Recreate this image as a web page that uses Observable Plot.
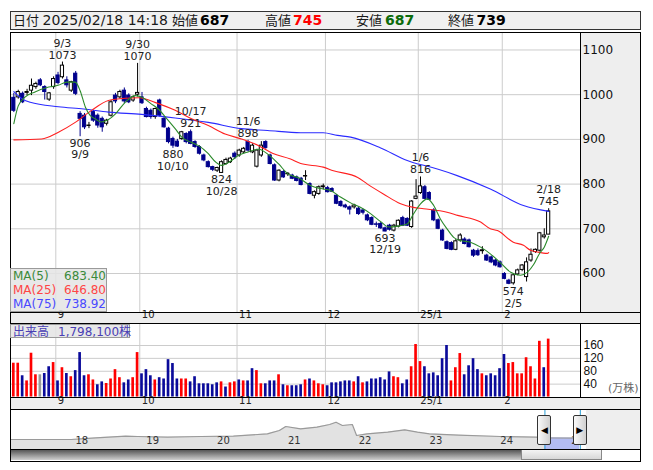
<!DOCTYPE html>
<html><head><meta charset="utf-8">
<script src="https://cdn.jsdelivr.net/npm/d3@7"></script>
<script src="https://cdn.jsdelivr.net/npm/@observablehq/plot@0.6"></script>
<style>
body{margin:0;background:#fff;font-family:"DejaVu Sans","Noto Sans CJK JP",sans-serif;}
#wrap{position:relative;width:653px;height:470px;overflow:hidden;background:#fff;}
.a{position:absolute;box-sizing:border-box;}
.hl{position:absolute;height:1px;background:#000;}
.vl{position:absolute;width:1px;background:#000;}
.ht{position:absolute;top:11px;height:18px;line-height:18px;font-size:14px;color:#1a1a1a;white-space:nowrap;}
.cj{font-family:"Noto Sans CJK JP",sans-serif;font-size:13px;}
.b{font-weight:bold;}
.lg{position:absolute;left:2px;width:93px;height:14px;line-height:14px;font-size:12px;}
.lg span{position:absolute;right:0;}
</style></head><body><div id="wrap"></div>
<script>
// ---------- data ----------
const dates = ["8/19","8/20","8/21","8/22","8/23","8/26","8/27","8/28","8/29","8/30",
"9/2","9/3","9/4","9/5","9/6","9/9","9/10","9/11","9/12","9/13","9/17","9/18","9/19","9/20","9/24","9/25","9/26","9/27","9/30",
"10/1","10/2","10/3","10/4","10/7","10/8","10/9","10/10","10/11","10/15","10/16","10/17","10/18","10/21","10/22","10/23","10/24","10/25","10/28","10/29","10/30","10/31",
"11/1","11/5","11/6","11/7","11/8","11/11","11/12","11/13","11/14","11/15","11/18","11/19","11/20","11/21","11/22","11/25","11/26","11/27","11/28","11/29",
"12/2","12/3","12/4","12/5","12/6","12/9","12/10","12/11","12/12","12/13","12/16","12/17","12/18","12/19","12/20","12/23","12/24","12/25","12/26","12/27","12/30",
"1/6","1/7","1/8","1/9","1/10","1/14","1/15","1/16","1/17","1/20","1/21","1/22","1/23","1/24","1/27","1/28","1/29","1/30","1/31",
"2/3","2/4","2/5","2/6","2/7","2/10","2/12","2/13","2/14","2/17","2/18"];
const open = [993,994,1002,1004,1009,1017,1032,1017,989,1017, 1043,1039,1032,1009,1047,957,953,930,961,953, 946,935,953,998,994,1009,998,987,1000,994,
968,964,950,987,946,924,901,895,901,912, 916,894,883,864,849,838,830,825,845,849, 868,864,871,894,871,839,864,894,864,842,
808,827,822,819,815,812,817,800,774,778, 793,791,789,774,760,752,748,748,745,741, 730,724,710,711,701,707,696,705,724,722,
704,767,780,793,780,741,719,696,670,668, 653,674,676,674,651,650,650,640,636,629, 625,599,584,578,598,608,592,629,648,651, 681,687];
const high = [1003,1010,1006,1012,1035,1028,1036,1020,1005,1040, 1050,1073,1040,1030,1052,962,958,938,965,957, 950,945,987,1003,1010,1015,1002,997,1070,1005,
972,968,970,990,950,927,905,900,918,915, 921,897,886,867,852,840,838,852,858,860, 872,878,882,898,890,878,895,897,867,845,
832,830,826,822,818,815,830,803,785,796, 800,795,792,777,763,755,751,755,748,744, 733,727,715,714,704,710,710,720,728,725,
763,810,816,797,783,745,722,699,673,671, 676,689,680,677,654,655,660,643,639,632, 628,602,587,598,610,620,635,655,655,692, 700,745];
const low = [960,990,980,998,998,1012,1018,988,985,1012, 1022,1035,1015,1005,998,906,922,924,938,925, 916,930,950,980,990,980,980,983,995,978,
948,945,945,950,925,890,880,882,898,890, 888,880,865,850,836,828,826,824,842,846, 855,860,868,872,868,836,860,878,843,806,
805,813,817,810,805,796,808,776,767,775, 787,780,781,754,748,745,731,744,730,731, 716,707,703,699,693,695,693,702,705,705,
701,765,777,765,763,716,698,672,653,651, 651,670,664,657,636,638,643,627,622,615, 612,586,575,574,595,604,581,625,645,648, 677,687];
const close = [964,1006,983,1006,1020,1024,1021,1006,1003,1035, 1026,1065,1021,1028,1002,946,927,931,942,931, 927,942,983,985,1006,985,983,994,1004,981,
950,950,968,953,927,894,886,884,916,894, 890,883,868,853,838,832,836,849,854,857, 860,875,879,875,886,875,886,881,845,808,
830,815,823,812,807,798,818,778,782,793, 795,782,783,756,751,748,743,752,733,736, 719,709,709,701,694,698,707,718,707,707,
761,772,795,767,765,719,700,674,655,653, 672,685,666,659,640,641,652,629,625,618, 614,588,577,596,607,618,625,642,653,690, 685,739];
// volume in 万株
const volume = [105,105,66,50,136,69,69,73,94,107, 50,91,73,63,82,138,66,69,53,38, 47,42,56,85,60,44,53,60,138,72,
85,66,53,60,56,116,104,56,56,56, 47,63,41,41,41,38,44,47,31,44, 47,53,50,50,88,82,41,41,50,50,
69,38,35,35,35,38,53,56,50,41, 38,35,44,44,47,50,50,47,63,44, 47,56,56,60,53,78,63,60,41,53,
94,163,110,94,72,75,66,119,160,50, 91,135,69,97,119,85,72,66,72,66, 88,132,104,107,72,72,122,94,56,173, 91,179.81];
// volume bar direction: u = up, d = down, f = unchanged (ten days per string)
const volDir = ["uuduuufddu","dududdduud","duuuudduud","dduddddduu","dddddddudu",
"ududduuddd","ududdduduu","uddddddudu","dddddduudd","uuuddddddu",
"uudddduddd","dduuuuuuuu","du"].join("").split("");
const ma5Idx = [0,1,2.6,4.8,7.9,10,12,13.9,15,16.2,17.3,18.4,19.8,21,23,25.2,27.5,29,31,32.7,34.3,36.5,38,40,41.8,44,45.6,47,49,50.8,53,55.4,57.6,59.9,62,64.4,67.1,69.4,71.6,73.9,76.2,78.4,80.7,83,84.8,86.8,89,90.4,92,93.6,95,96.5,98,99.5,101,103.3,105.6,107.8,110,112.4,114.6,116.2,117.6,119,120,121];
const ma5Val = [935,975,995,1006,1017,1021,1028,1028,1009,972,953,946,939,942,957,983,998,994,980,968,950,924,905,894,886,868,850,842,851,864,872,878,866,845,823,814,797,790,786,771,758,748,734,716,704,706,711,733,756,767,752,722,700,681,674,670,659,644,625,603,596,603,620,646,659,683.4];
const ma25Idx = [0,6.3,10.1,13.9,17.6,21.4,25.2,28.2,32.7,36.5,40.2,44,47.8,51.5,55.4,58.5,62.6,64.9,70,72.3,77.8,80,83.6,87.5,90.4,92.7,98,100.4,105.6,107.8,109.4,113,115.3,116.9,118.5,120.7,121];
const ma25Val = [899,901,916,938,965,987,992,993,980,965,946,931,912,901,886,869,856,846,838,830,815,800,778,756,748,745,737,730,715,700,696,670,663,652,648,645,646.8];
const ma75Idx = [0,2,3.7,10.1,15.8,21.4,28.9,36.5,44,51.5,57.4,64.9,70,73.2,76.2,83,89,91.4,92.7,100.3,107.8,115.3,121];
const ma75Val = [1007,990,983,973,968,961,956,948,938,924,920,915,915,909,905,881,853,845,842,819,789,752,738.92];
const priceTicks = [600,700,800,900,1000,1100];
const volTicks = [40,80,120,160];
const monthLabels = ["9","10","11","12","25/1","2"];
const highMarks = [11,28,40,53,92,121];
const lowMarks = [15,36,47,84,113];
const navYear = [2017.09,2017.94,2018.29,2018.71,2018.88,2019.30,2019.77,2020.23,2020.71,2020.88,2020.97,2021.18,2021.41,2021.59,2021.68,2021.77,2021.91,2021.97,2022.12,2022.41,2022.65,2022.83,2023.00,2023.41,2024.00,2024.50,2024.63,2024.71,2025.12];
const navVal = [700,700,870,1030,1000,930,1000,1030,1270,1600,2000,1770,1930,2200,2430,2100,2200,1100,1270,1430,1670,1430,1270,1130,1000,930,900,870,830];
const yearTicks = [2018,2019,2020,2021,2022,2023,2024,2025];
const yearLabels = ["18","19","20","21","22","23","24","25"];
const selRange = [2024.63, 2025.13];
const header = {date:"2025/02/18 14:18", open:687, high:745, low:687, close:739};
const ma = {ma5:"683.40", ma25:"646.80", ma75:"738.92"};
const lastVolume = "1,798,100";

// ---------- derived tables ----------
const rows = dates.map((d,i)=>({i,d,o:open[i],h:high[i],l:low[i],c:close[i],v:volume[i],dir:volDir[i]}));
rows.forEach(r=>r.up = r.c>=r.o);
const months=[];
for(let i=1;i<dates.length;i++){ if(dates[i].split("/")[0]!==dates[i-1].split("/")[0]) months.push({b:i-0.5,label:monthLabels[months.length]}); }
const ma5 = ma5Idx.map((x,k)=>({x,v:ma5Val[k]}));
const ma25 = ma25Idx.map((x,k)=>({x,v:ma25Val[k]}));
const ma75 = ma75Idx.map((x,k)=>({x,v:ma75Val[k]}));
const highRows = highMarks.map(i=>rows[i]);
const lowRows = lowMarks.map(i=>rows[i]);
const nav = navYear.map((t,k)=>({t,v:navVal[k]}));

const NAVY="#00008c", UPC="#ff0000", DNC="#0a0a9a";
const dirColor = {u:UPC,d:DNC,f:"#999"};
const XD=[-0.75,128.2];
const FONT="DejaVu Sans, Noto Sans CJK JP, sans-serif";

const wrap=document.getElementById("wrap");
function box(css){const d=document.createElement("div");d.className="a";d.style.cssText=css;wrap.appendChild(d);return d;}
function place(el,l,t){el.style.position="absolute";el.style.left=l+"px";el.style.top=t+"px";wrap.appendChild(el);}

// backgrounds
box("left:580px;top:32px;width:60px;height:280px;background:#eeeeee;");
box("left:10px;top:312px;width:630px;height:11px;background:#eeeeee;");
box("left:10px;top:397px;width:630px;height:12px;background:#eeeeee;");
box("left:586px;top:410px;width:54px;height:39px;background:#eeeeee;");

// ---------- price panel ----------
const price = Plot.plot({
  width:630,height:291,marginLeft:0,marginRight:60,marginTop:0,marginBottom:11,
  x:{domain:XD,axis:null},
  y:{domain:[512.8,1139.1],axis:null},
  style:{fontFamily:FONT,fontSize:"12px",background:"transparent",overflow:"visible"},
  marks:[
    Plot.ruleY(priceTicks,{stroke:"#cccccc"}),
    Plot.ruleX(months,{x:"b",stroke:"#cccccc"}),
    Plot.ruleX(rows,{x:"i",y1:"l",y2:"h",stroke:d=>d.up?"#000":NAVY}),
    Plot.rect(rows,{x1:d=>d.i-0.36,x2:d=>d.i+0.36,y1:"o",y2:"c",fill:d=>d.up?"#fff":NAVY,stroke:d=>d.up?"#000":NAVY,strokeWidth:1}),
    Plot.line(ma75,{x:"x",y:"v",stroke:"#2b2bff",strokeWidth:1.1,curve:"monotone-x"}),
    Plot.line(ma25,{x:"x",y:"v",stroke:"#ff2020",strokeWidth:1.1,curve:"monotone-x"}),
    Plot.line(ma5,{x:"x",y:"v",stroke:"#2a8a2a",strokeWidth:1.1,curve:"monotone-x"}),
    Plot.text(highRows,{x:"i",y:"h",text:d=>String(d.h),dy:-7,fill:"#222",fontSize:11}),
    Plot.text(highRows,{x:"i",y:"h",text:"d",dy:-19,fill:"#222",fontSize:11}),
    Plot.text(lowRows,{x:"i",y:"l",text:d=>String(d.l),dy:6.5,fill:"#222",fontSize:11}),
    Plot.text(lowRows,{x:"i",y:"l",text:"d",dy:18,fill:"#222",fontSize:11}),
    Plot.axisY(priceTicks,{anchor:"right",tickSize:0,tickPadding:2,textAnchor:"start",tickFormat:d=>`${d}`,fontSize:12,fill:"#111",label:null}),
    Plot.text(months,{x:"b",text:"label",frameAnchor:"bottom",dy:5.5,dx:2,textAnchor:"start",fontSize:10,fill:"#222"})
  ]
});
place(price,10,32);

// ---------- volume panel ----------
const volPlot = Plot.plot({
  width:630,height:86,marginLeft:0,marginRight:60,marginTop:0,marginBottom:12,
  x:{domain:XD,axis:null},
  y:{domain:[-1.5,228.3],axis:null},
  style:{fontFamily:FONT,fontSize:"12px",background:"transparent",overflow:"visible"},
  marks:[
    Plot.ruleY(volTicks,{stroke:"#cccccc"}),
    Plot.ruleX(months,{x:"b",stroke:"#cccccc"}),
    Plot.rectY(rows,{x1:d=>d.i-0.3,x2:d=>d.i+0.3,y1:0,y2:"v",fill:d=>dirColor[d.dir]}),
    Plot.axisY(volTicks,{anchor:"right",tickSize:0,tickPadding:3,textAnchor:"start",tickFormat:d=>`${d}`,fontSize:12,fontFamily:"Liberation Sans, sans-serif",fill:"#111",label:null}),
    Plot.text(["(万株)"],{frameAnchor:"bottom-right",dx:58,dy:-6,textAnchor:"end",fontSize:11,fill:"#666"}),
    Plot.text(months,{x:"b",text:"label",frameAnchor:"bottom",dy:6,dx:2,textAnchor:"start",fontSize:10,fill:"#222"})
  ]
});
place(volPlot,10,323);

// ---------- navigator ----------
const navPlot = Plot.plot({
  width:630,height:39,marginLeft:0,marginRight:55,marginTop:0,marginBottom:0,
  x:{domain:[2017.082,2025.203],axis:null},
  y:{domain:[-300,3600],axis:null},
  style:{fontFamily:FONT,fontSize:"10px",background:"transparent",overflow:"visible"},
  marks:[
    Plot.areaY(nav,{x:"t",y1:-300,y2:"v",fill:"#e2e2e2"}),
    Plot.areaY(nav.filter(d=>d.t>=selRange[0]),{x:"t",y1:-300,y2:"v",fill:"#b3bcf3"}),
    Plot.line(nav,{x:"t",y:"v",stroke:"#9a9a9a",strokeWidth:1.2}),
    Plot.text(yearTicks,{x:d=>d,text:(d,i)=>yearLabels[i],frameAnchor:"bottom",dy:-6,textAnchor:"start",fontSize:10,fill:"#333"}),
    Plot.ruleX(selRange,{stroke:"#2a9fd6"})
  ]
});
place(navPlot,10,410);
const nx = navPlot.scale("x");
const hx1 = 10 + nx.apply(selRange[0]), hx2 = 10 + nx.apply(selRange[1]);

// scrollbar
box("left:10px;top:449px;width:630px;height:12px;background:#fff;");
box("left:10px;top:449px;width:511px;height:11px;background:linear-gradient(#4a4a4a,#9a9a9a 60%,#cfcfcf);");
box("left:521px;top:449px;width:81px;height:11px;background:linear-gradient(#f4f4f4,#d8d8d8);border:1px solid #888;");
// handles
[hx1,hx2].forEach((hx,k)=>{
  const h = box(`left:${hx-7}px;top:415px;width:14px;height:30px;background:linear-gradient(90deg,#fafafa,#d0d0d0);border:1px solid #333;border-radius:2px;font-size:9px;line-height:28px;text-align:center;color:#000;`);
  h.textContent = k===0?"◀":"▶";
});

// frame lines
box("left:10px;top:32px;width:631px;height:430px;border:1px solid #000;");
[312,323,397,449].forEach(y=>{const d=document.createElement("div");d.className="hl";d.style.cssText=`left:10px;top:${y}px;width:630px;`;wrap.appendChild(d);});
{const d=document.createElement("div");d.className="hl";d.style.cssText="left:10px;top:409px;width:630px;";wrap.appendChild(d);}
[[32,280],[323,74]].forEach(([t,h])=>{const d=document.createElement("div");d.className="vl";d.style.cssText=`left:580px;top:${t}px;height:${h}px;`;wrap.appendChild(d);});

// header
box("left:10px;top:11px;width:631px;height:19px;border:1px solid #333;background:#f0f0f0;");
const hdr=[[13,"日付","cj",""],[42.5,header.date,"",""],[172,"始値","cj",""],[200,String(header.open),"b","#000"],
[265,"高値","cj",""],[293,String(header.high),"b","#ff0000"],[356,"安値","cj",""],[385,String(header.low),"b","#0b6b0b"],
[448,"終値","cj",""],[476.5,String(header.close),"b","#000"]];
hdr.forEach(([x,t,c,col])=>{const s=document.createElement("div");s.className="ht "+c;s.style.left=x+"px";if(col)s.style.color=col;s.textContent=t;wrap.appendChild(s);});

// MA legend
const lg = box("left:10px;top:268px;width:97px;height:44px;background:rgba(228,228,228,0.85);border:1px solid #9a9a9a;");
[["MA(5)",ma.ma5,"#3b8a3b"],["MA(25)",ma.ma25,"#ff4545"],["MA(75)",ma.ma75,"#4848ff"]].forEach(([n,v,col],k)=>{
  const r=document.createElement("div");r.className="lg";r.style.top=(k*14)+"px";r.style.color=col;
  r.innerHTML=`${n}<span>${v}</span>`;lg.appendChild(r);
});
// volume label
const vl = box("left:10px;top:324px;width:120px;height:14px;background:rgba(228,228,228,0.85);border:1px solid #9a9a9a;font-size:12px;line-height:12px;color:#4a3fb5;white-space:nowrap;");
vl.innerHTML=`<span style="position:absolute;left:2px;top:0;font-family:'Noto Sans CJK JP';">出来高</span><span style="position:absolute;left:47px;top:0;">${lastVolume}<span style="font-family:'Noto Sans CJK JP';">株</span></span>`;
</script></body></html>
